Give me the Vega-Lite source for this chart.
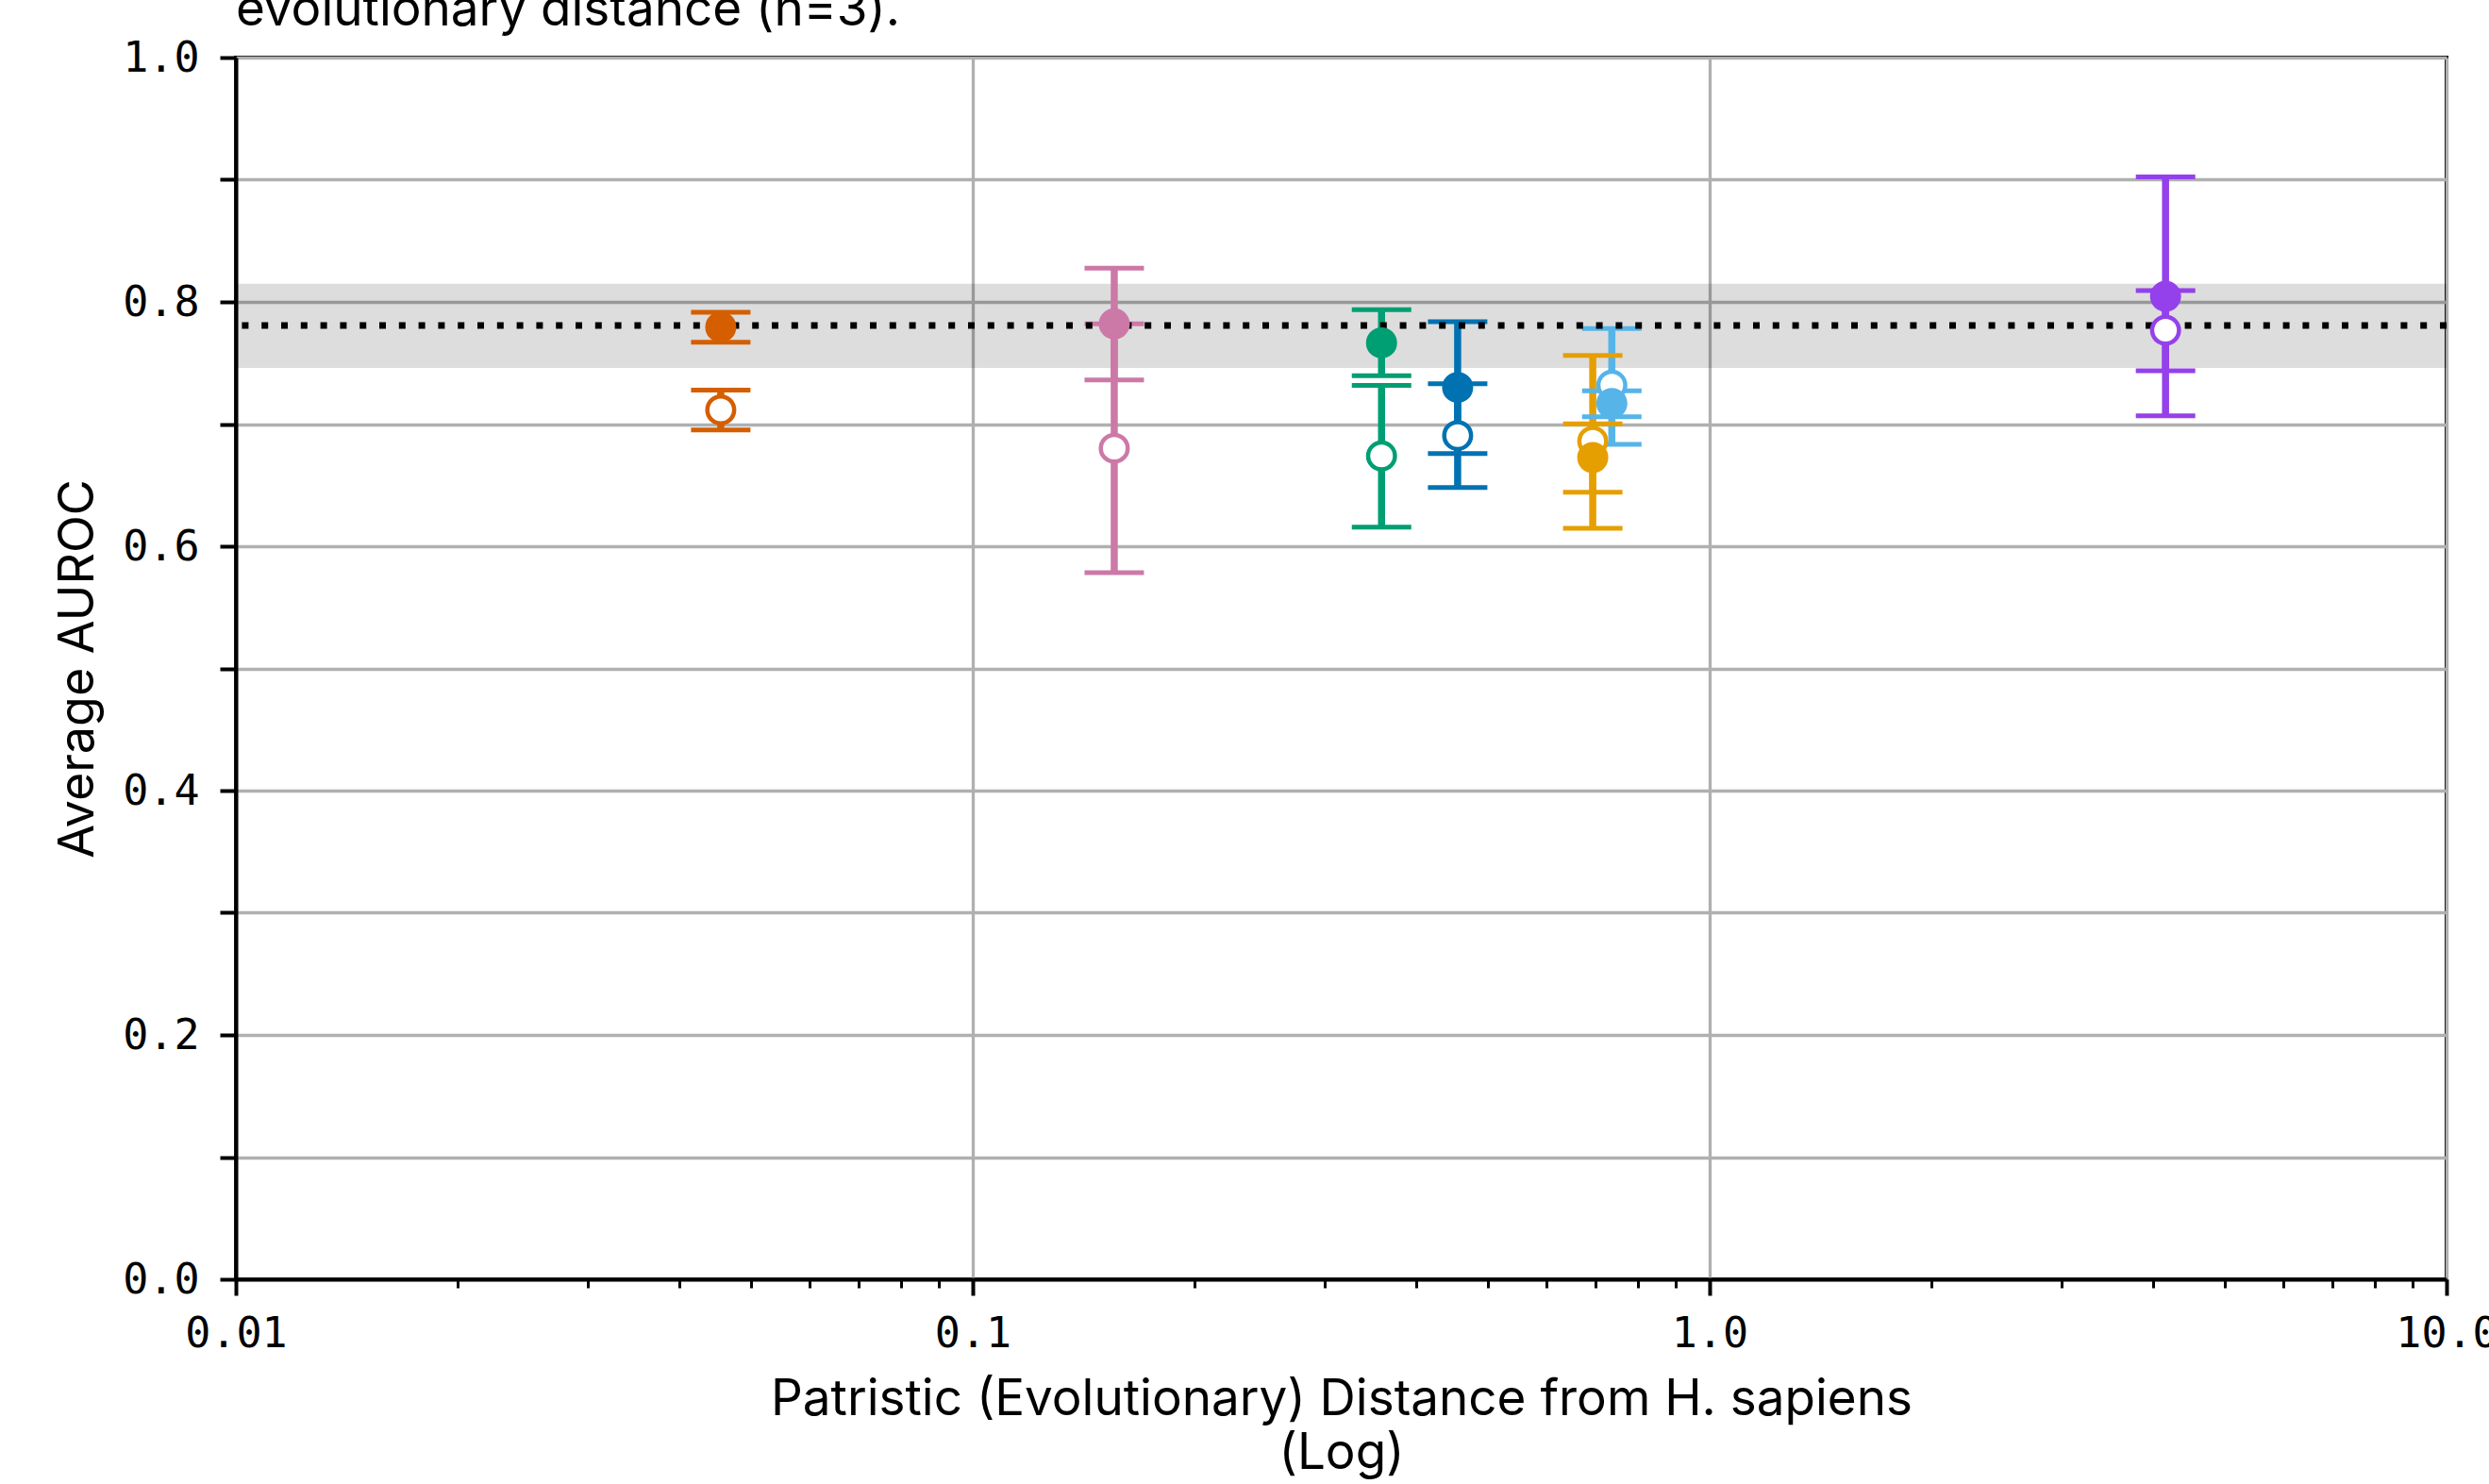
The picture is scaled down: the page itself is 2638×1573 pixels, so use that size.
{
  "$schema": "https://vega.github.io/schema/vega-lite/v6.json",
  "autosize": {"type": "none"},
  "padding": {"left": 250, "top": 61, "right": 45, "bottom": 217},
  "width": 2343,
  "height": 1295,
  "background": "white",
  "config": {
    "view": {"stroke": "black", "strokeWidth": 4},
    "axis": {"domainColor": "black", "domainWidth": 4, "tickColor": "black", "labelColor": "black", "titleColor": "black"}
  },
  "title": {
    "text": "evolutionary distance (n=3).",
    "anchor": "start",
    "frame": "group",
    "font": "Inter",
    "fontSize": 53,
    "fontWeight": "normal",
    "color": "black",
    "baseline": "alphabetic",
    "offset": 4,
    "dy": 45
  },
  "datasets": {
    "main": [
      {"species": "Species 1", "model": "open", "dist": 0.0455, "mean": 0.7116, "lo": 0.6951, "hi": 0.7278},
      {"species": "Species 1", "model": "filled", "dist": 0.0455, "mean": 0.7794, "lo": 0.767, "hi": 0.7915},
      {"species": "Species 2", "model": "open", "dist": 0.1556, "mean": 0.6802, "lo": 0.5784, "hi": 0.782},
      {"species": "Species 2", "model": "filled", "dist": 0.1556, "mean": 0.782, "lo": 0.7361, "hi": 0.8276},
      {"species": "Species 3", "model": "open", "dist": 0.3587, "mean": 0.6739, "lo": 0.6157, "hi": 0.7317},
      {"species": "Species 3", "model": "filled", "dist": 0.3587, "mean": 0.7665, "lo": 0.7396, "hi": 0.7936},
      {"species": "Species 4", "model": "open", "dist": 0.455, "mean": 0.6906, "lo": 0.6481, "hi": 0.7331},
      {"species": "Species 4", "model": "filled", "dist": 0.455, "mean": 0.73, "lo": 0.6759, "hi": 0.7838},
      {"species": "Species 5", "model": "open", "dist": 0.694, "mean": 0.686, "lo": 0.6147, "hi": 0.7562},
      {"species": "Species 5", "model": "filled", "dist": 0.694, "mean": 0.6726, "lo": 0.6443, "hi": 0.7001},
      {"species": "Species 6", "model": "open", "dist": 0.7366, "mean": 0.7318, "lo": 0.6834, "hi": 0.7781},
      {"species": "Species 6", "model": "filled", "dist": 0.7366, "mean": 0.7169, "lo": 0.706, "hi": 0.7272},
      {"species": "Species 7", "model": "filled", "dist": 4.156, "mean": 0.8046, "lo": 0.7068, "hi": 0.9024},
      {"species": "Species 7", "model": "open", "dist": 4.156, "mean": 0.7768, "lo": 0.7436, "hi": 0.8093}
    ],
    "baseline": [
      {"label": "baseline", "mean": 0.7807, "lo": 0.746, "hi": 0.8149, "xmin": 0.01, "xmax": 10}
    ]
  },
  "layer": [
    {
      "data": {"name": "baseline"},
      "mark": {"type": "rect", "color": "black", "opacity": 0.133},
      "encoding": {
        "x": {
          "field": "xmin", "type": "quantitative",
          "scale": {"type": "log", "domain": [0.01, 10], "nice": false},
          "axis": {
            "title": ["Patristic (Evolutionary) Distance from H. sapiens", "(Log)"],
            "values": [0.01, 0.02, 0.03, 0.04, 0.05, 0.06, 0.07, 0.08, 0.09, 0.1, 0.2, 0.3, 0.4, 0.5, 0.6, 0.7, 0.8, 0.9, 1, 2, 3, 4, 5, 6, 7, 8, 9, 10],
            "labelExpr": "datum.value == 0.01 ? '0.01' : datum.value == 0.1 ? '0.1' : datum.value == 1 ? '1.0' : datum.value == 10 ? '10.0' : ''",
            "labelFont": "DejaVu Sans Mono",
            "labelFontSize": 45,
            "labelPadding": 18,
            "labelOverlap": false,
            "labelBound": false,
            "labelFlush": false,
            "grid": true,
            "gridColor": "#b0b0b0",
            "gridWidth": 3.3,
            "gridOpacity": {"condition": {"test": "abs(log(datum.value)/LN10 - round(log(datum.value)/LN10)) < 0.001", "value": 1}, "value": 0},
            "tickSize": {"condition": {"test": "abs(log(datum.value)/LN10 - round(log(datum.value)/LN10)) < 0.001", "value": 17}, "value": 9},
            "tickWidth": {"condition": {"test": "abs(log(datum.value)/LN10 - round(log(datum.value)/LN10)) < 0.001", "value": 4}, "value": 3},
            "titleFont": "Inter",
            "titleFontSize": 53,
            "titleFontWeight": "normal",
            "titleLineHeight": 57,
            "titlePadding": 21
          }
        },
        "x2": {"field": "xmax"},
        "y": {
          "field": "lo", "type": "quantitative",
          "scale": {"domain": [0, 1], "nice": false, "zero": false},
          "axis": {
            "title": "Average AUROC",
            "values": [0, 0.1, 0.2, 0.3, 0.4, 0.5, 0.6, 0.7, 0.8, 0.9, 1],
            "labelExpr": "round(datum.value*10) % 2 == 0 ? format(datum.value, '.1f') : ''",
            "labelFont": "DejaVu Sans Mono",
            "labelFontSize": 45,
            "labelPadding": 22,
            "labelOverlap": false,
            "labelBound": false,
            "labelFlush": false,
            "grid": true,
            "gridColor": "#b0b0b0",
            "gridWidth": 3.3,
            "tickSize": 17,
            "tickWidth": 4,
            "titleFont": "Inter",
            "titleFontSize": 52,
            "titleFontWeight": "normal",
            "titlePadding": 20
          }
        },
        "y2": {"field": "hi"}
      }
    },
    {
      "data": {"name": "main"},
      "mark": {"type": "rule", "strokeWidth": 7.5, "strokeCap": "butt"},
      "encoding": {
        "x": {"field": "dist", "type": "quantitative"},
        "y": {"field": "lo", "type": "quantitative"},
        "y2": {"field": "hi"},
        "color": {
          "field": "species", "type": "nominal", "legend": null,
          "scale": {"domain": ["Species 1", "Species 2", "Species 3", "Species 4", "Species 5", "Species 6", "Species 7"], "range": ["#D55E00", "#CC79A7", "#009E73", "#0072B2", "#E69F00", "#56B4E9", "#9441EB"]}
        }
      }
    },
    {
      "data": {"name": "main"},
      "mark": {"type": "tick", "orient": "horizontal", "size": 63, "thickness": 5, "opacity": 1},
      "encoding": {
        "x": {"field": "dist", "type": "quantitative"},
        "y": {"field": "lo", "type": "quantitative"},
        "color": {"field": "species", "type": "nominal", "legend": null}
      }
    },
    {
      "data": {"name": "main"},
      "mark": {"type": "tick", "orient": "horizontal", "size": 63, "thickness": 5, "opacity": 1},
      "encoding": {
        "x": {"field": "dist", "type": "quantitative"},
        "y": {"field": "hi", "type": "quantitative"},
        "color": {"field": "species", "type": "nominal", "legend": null}
      }
    },
    {
      "data": {"name": "baseline"},
      "mark": {"type": "rule", "color": "black", "strokeWidth": 7, "strokeDash": [7, 13.8], "strokeCap": "butt"},
      "encoding": {
        "y": {"field": "mean", "type": "quantitative"}
      }
    },
    {
      "data": {"name": "main"},
      "mark": {"type": "point", "shape": "circle", "size": 810, "strokeWidth": 4.5, "opacity": 1, "filled": false},
      "encoding": {
        "x": {"field": "dist", "type": "quantitative"},
        "y": {"field": "mean", "type": "quantitative"},
        "stroke": {
          "field": "species", "type": "nominal", "legend": null,
          "scale": {"domain": ["Species 1", "Species 2", "Species 3", "Species 4", "Species 5", "Species 6", "Species 7"], "range": ["#D55E00", "#CC79A7", "#009E73", "#0072B2", "#E69F00", "#56B4E9", "#9441EB"]}
        },
        "fill": {
          "condition": {"test": "datum.model === 'open'", "value": "white"},
          "field": "species", "type": "nominal", "legend": null,
          "scale": {"domain": ["Species 1", "Species 2", "Species 3", "Species 4", "Species 5", "Species 6", "Species 7"], "range": ["#D55E00", "#CC79A7", "#009E73", "#0072B2", "#E69F00", "#56B4E9", "#9441EB"]}
        },
        "fillOpacity": {"value": 1}
      }
    }
  ]
}
